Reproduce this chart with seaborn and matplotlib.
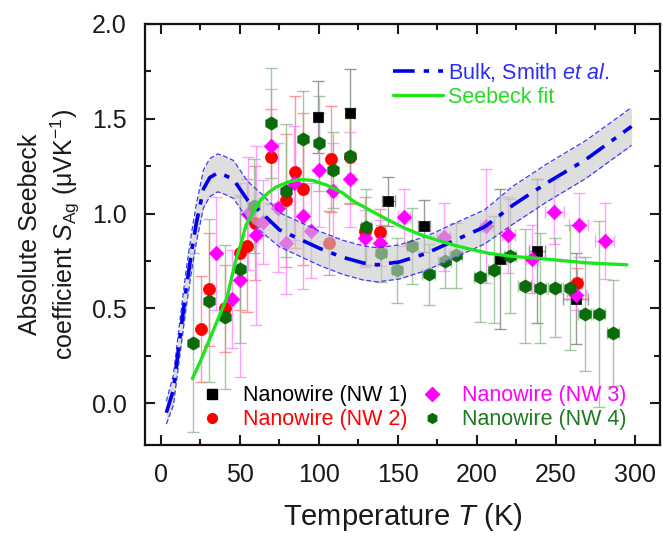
import numpy as np
import pandas as pd
import matplotlib
matplotlib.use("Agg")
import matplotlib.pyplot as plt
import seaborn as sns
from matplotlib.lines import Line2D
from matplotlib.ticker import MultipleLocator

# bulk silver (Smith et al.) curve and its uncertainty band
bulk_t = [3.5, 8, 12, 16, 19.5, 22.5, 27, 31, 36, 41, 46, 55, 65, 75, 88, 101,
          115, 128, 137, 151, 168, 185, 205, 223, 244, 269, 298]
bulk_s = [-0.05, 0.07, 0.34, 0.6, 0.8, 0.95, 1.13, 1.19, 1.215, 1.20, 1.18, 1.07,
          0.995, 0.915, 0.865, 0.815, 0.77, 0.74, 0.73, 0.745, 0.79, 0.855, 0.93,
          1.045, 1.16, 1.285, 1.46]
bulk_unc = [0.06, 0.08, 0.09, 0.1, 0.1, 0.1, 0.1, 0.1, 0.1, 0.1, 0.1, 0.1, 0.1,
            0.09, 0.09, 0.09, 0.09, 0.09, 0.09, 0.09, 0.09, 0.09, 0.09, 0.1, 0.1,
            0.1, 0.1]

# Seebeck fit
fit_t = [20, 25, 31, 36, 42, 47, 51, 54, 58, 63, 68, 73, 80, 88, 96, 105, 115,
         122, 132, 143, 154, 164, 175, 185, 197, 208, 222, 244, 270, 295]
fit_s = [0.13, 0.22, 0.34, 0.44, 0.56, 0.74, 0.85, 0.94, 1.00, 1.07, 1.11, 1.14,
         1.165, 1.18, 1.175, 1.15, 1.11, 1.065, 1.02, 0.97, 0.925, 0.89, 0.86,
         0.835, 0.81, 0.79, 0.775, 0.76, 0.74, 0.73]

# nanowire measurements
nw1_t = [99.6, 120, 144, 166.5, 214.6, 238, 262.7]
nw1_s = [1.51, 1.53, 1.065, 0.935, 0.76, 0.805, 0.55]
nw1_err = [0.19, 0.23, 0.13, 0.135, 0.37, 0.38, 0.24]
nw1_xerr = [2, 2, 4, 4, 4, 5, 8]

nw2_t = [25.7, 30.6, 40.5, 50, 54.6, 59.5, 70, 79.5, 84.8, 90, 106.5, 108,
         119.6, 129, 139, 263.7]
nw2_s = [0.39, 0.60, 0.50, 0.79, 0.83, 0.95, 1.30, 1.07, 1.22, 1.13, 0.845,
         1.29, 1.30, 0.91, 0.905, 0.635]
nw2_err = [0.28, 0.30, 0.23, 0.30, 0.35, 0.30, 0.25, 0.35, 0.40, 0.40, 0.17,
           0.28, 0.25, 0.18, 0.12, 0.08]
nw2_xerr = [1, 1, 1, 1, 1, 1, 1, 1, 1, 1, 2, 2, 2, 3, 3, 3]

nw3_t = [35, 45, 50, 55, 60, 65, 70, 74, 79.5, 84, 90, 95, 100, 109, 120, 129,
         139, 154, 179, 206, 220, 235, 249, 263, 264.5, 281]
nw3_s = [0.79, 0.55, 0.65, 1.00, 0.885, 0.955, 1.355, 1.03, 0.845, 1.16, 0.99,
         0.91, 1.23, 1.12, 1.18, 0.87, 0.845, 0.98, 0.875, 0.935, 0.885, 0.76,
         1.01, 0.57, 0.94, 0.855]
nw3_err = [0.30, 0.26, 0.51, 0.30, 0.47, 0.22, 0.30, 0.34, 0.27, 0.30, 0.39,
           0.25, 0.30, 0.25, 0.25, 0.15, 0.12, 0.15, 0.18, 0.30, 0.20, 0.18,
           0.17, 0.08, 0.17, 0.20]
nw3_xerr = [1, 1, 1, 1, 1, 1, 1, 1, 1, 1, 1, 1, 2, 2, 2, 3, 3, 4, 4, 4, 4, 4,
            6, 6, 6, 6]

nw4_t = [20.5, 30.6, 40.5, 50, 59, 70, 79.5, 89.7, 100.2, 109, 120, 130, 139.7,
         149.6, 159, 169.6, 179.7, 186.7, 202, 210.8, 221, 230.4, 240, 249.4,
         258.9, 268.4, 277.4, 286.3]
nw4_s = [0.32, 0.54, 0.455, 0.71, 1.04, 1.48, 1.12, 1.395, 1.37, 1.23, 1.305,
         0.93, 0.79, 0.70, 0.83, 0.68, 0.75, 0.78, 0.667, 0.705, 0.775, 0.617,
         0.61, 0.61, 0.61, 0.47, 0.47, 0.37]
nw4_err = [0.47, 0.43, 0.38, 0.39, 0.25, 0.29, 0.35, 0.25, 0.25, 0.2, 0.25,
           0.2, 0.15, 0.17, 0.2, 0.16, 0.14, 0.17, 0.24, 0.28, 0.3, 0.3, 0.29,
           0.26, 0.33, 0.3, 0.49, 0.28]
nw4_xerr = [1, 1, 1, 1, 1, 1, 1, 1, 1, 2, 2, 3, 3, 3, 3, 4, 4, 4, 4, 4, 4, 4,
            4, 4, 4, 4, 4, 4]

sns.set_theme(style="ticks")
plt.rcParams["font.family"] = ["Liberation Sans", "DejaVu Sans"]
plt.rcParams["mathtext.fontset"] = "custom"
plt.rcParams["mathtext.rm"] = "Liberation Sans"
plt.rcParams["mathtext.it"] = "Liberation Sans:italic"

fig = plt.figure(figsize=(6.63, 5.40), dpi=100)
ax = fig.add_axes([0.2187, 0.176, 0.7768, 0.7796])

series = [
    ("Nanowire (NW 1)", nw1_t, nw1_s, nw1_err, nw1_xerr, "s", "black", "#777777", 55, "black"),
    ("Nanowire (NW 2)", nw2_t, nw2_s, nw2_err, nw2_xerr, "o", "#ff0000", "#ff7777", 75, "#ff0000"),
    ("Nanowire (NW 3)", nw3_t, nw3_s, nw3_err, nw3_xerr, "D", "#ff00ff", "#ff80ff", 55, "#ff00ff"),
    ("Nanowire (NW 4)", nw4_t, nw4_s, nw4_err, nw4_xerr, "h", "#0a6b0a", "#86b886", 90, "#1f7a1f"),
]

for name, t, s, err, xerr, mk, col, ecol, size, tcol in series:
    ax.errorbar(t, s, yerr=err, xerr=xerr, fmt="none", ecolor=ecol, elinewidth=1,
                capsize=4, capthick=1, alpha=0.75, zorder=2)
    df = pd.DataFrame({"T": t, "S": s})
    sns.scatterplot(data=df, x="T", y="S", marker=mk, color=col, s=size,
                    edgecolor=col, linewidth=0.5, ax=ax, zorder=3, legend=False)

# uncertainty band drawn on top so points inside look faded
lo = np.array(bulk_s) - np.array(bulk_unc)
hi = np.array(bulk_s) + np.array(bulk_unc)
ax.fill_between(bulk_t, lo, hi, color="#c8c8c8", alpha=0.6, lw=0, zorder=4)
ax.plot(bulk_t, lo, color="#3a3aff", lw=0.9, ls=(0, (4, 2)), zorder=5)
ax.plot(bulk_t, hi, color="#3a3aff", lw=0.9, ls=(0, (4, 2)), zorder=5)

sns.lineplot(x=bulk_t, y=bulk_s, color="#0000ee", lw=2.6, ax=ax, zorder=6,
             sort=False, estimator=None)
ax.lines[-1].set_dashes([6, 2.5, 1.5, 2.5])
sns.lineplot(x=fit_t, y=fit_s, color="#1fe51f", lw=2.4, ax=ax, zorder=7,
             sort=False, estimator=None)

ax.set_xlim(-10, 316)
ax.set_ylim(-0.22, 2.0)
ax.xaxis.set_major_locator(MultipleLocator(50))
ax.xaxis.set_minor_locator(MultipleLocator(25))
ax.yaxis.set_major_locator(MultipleLocator(0.5))
ax.yaxis.set_minor_locator(MultipleLocator(0.25))
ax.set_yticks([0, 0.5, 1.0, 1.5, 2.0])
ax.set_yticklabels(["0.0", "0.5", "1.0", "1.5", "2.0"])
ax.tick_params(which="both", direction="in", top=True, right=True, width=1.5,
               labelsize=18, colors="#1a1a1a", pad=13)
ax.tick_params(which="major", length=7)
ax.tick_params(which="minor", length=4)
for sp in ax.spines.values():
    sp.set_linewidth(1.6)
    sp.set_color("#111111")

ax.set_xlabel("Temperature $T$ (K)", fontsize=21, color="#1a1a1a", labelpad=10)
ax.set_ylabel("Absolute Seebeck\ncoefficient $S_{\\mathrm{Ag}}$ (\u03bcVK$^{-1}$)",
              fontsize=18, color="#1a1a1a", labelpad=7, linespacing=1.3)

top_handles = [
    Line2D([], [], color="#0000ee", lw=2.6, dashes=[6, 2.5, 1.5, 2.5]),
    Line2D([], [], color="#1fe51f", lw=2.4),
]
leg1 = ax.legend(top_handles, ["Bulk, Smith $\\it{et\\ al.}$", "Seebeck fit"],
                 loc="upper left", bbox_to_anchor=(0.444, 0.959), frameon=False,
                 fontsize=15.5, handlelength=2.3, handletextpad=0.25,
                 labelspacing=0.15, labelcolor=["#2b2bff", "#22dd22"])
ax.add_artist(leg1)

nw_handles = [Line2D([], [], ls="none", marker=m, color=c, markersize=7)
              for _, _, _, _, _, m, c, _, _, _ in series]
nw_labels = [x[0] for x in series]
leg2 = ax.legend(nw_handles, nw_labels,
                 loc="upper left", bbox_to_anchor=(0.06, 0.188), ncol=2,
                 frameon=False, fontsize=15.5, handlelength=1.6,
                 handletextpad=0.6, columnspacing=0.37, labelspacing=0.15,
                 labelcolor=[x[9] for x in series])

fig.savefig("out.png", dpi=100)
